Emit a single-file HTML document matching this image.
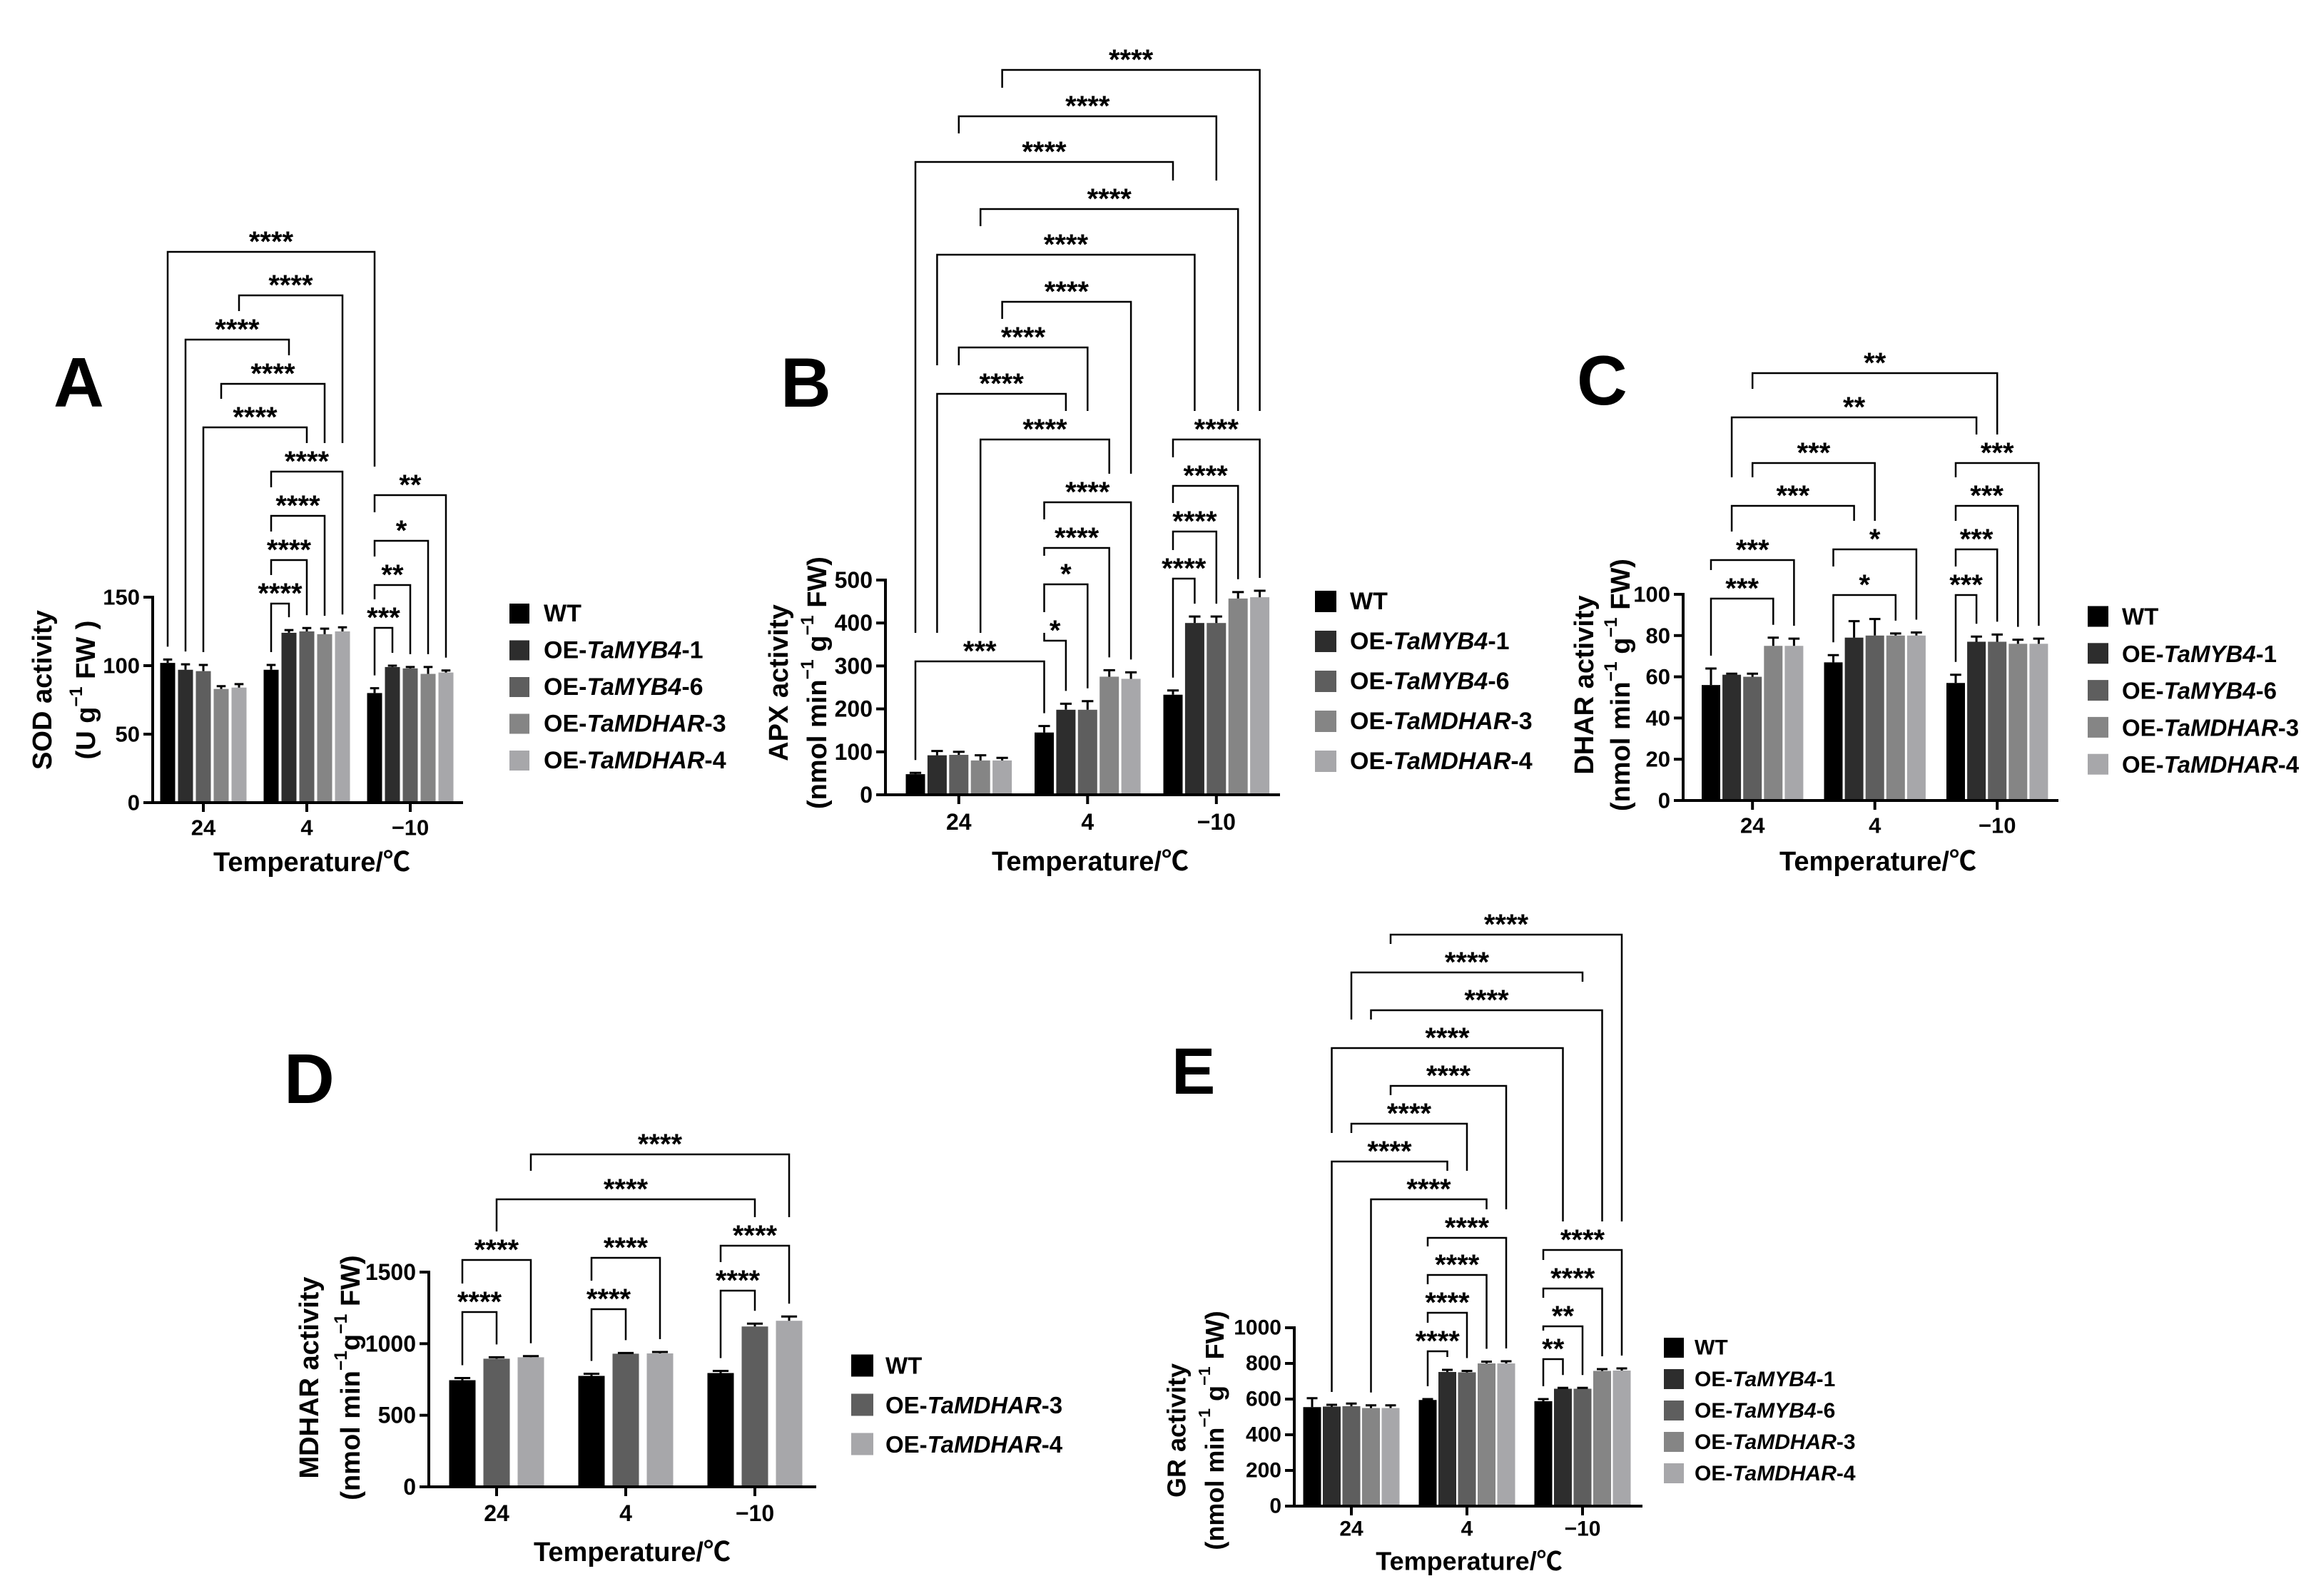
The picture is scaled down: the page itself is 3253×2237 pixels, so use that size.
<!DOCTYPE html>
<html><head><meta charset="utf-8"><style>
html,body{margin:0;padding:0;background:#fff;}
svg{display:block;font-family:"Liberation Sans","Noto Sans CJK SC",sans-serif;}
</style></head><body>
<svg id="fig" width="3253" height="2237" viewBox="0 0 3253 2237" xmlns="http://www.w3.org/2000/svg">
<rect x="0" y="0" width="3253" height="2237" fill="#fff"/>
</svg>
<script>
// ---- shared data ----
const categories = ['24','4','\u221210'];
const seriesFive = ['WT','OE-TaMYB4-1','OE-TaMYB4-6','OE-TaMDHAR-3','OE-TaMDHAR-4'];
const seriesThree = ['WT','OE-TaMDHAR-3','OE-TaMDHAR-4'];
const colorsFive = ['#000000','#2d2d2d','#5e5e5e','#858585','#a7a7aa'];
const colorsThree = ['#000000','#5e5e5e','#a7a7aa'];

// ---- Panel A: SOD ----
const sodMeans = [[102,97,96,83,84],[97,124,125,123,125],[80,99,98,94,95]];
const sodErrs = [[2.5,4,4.5,2,2.5],[3.5,2,2.5,4,3],[3.5,1,1,5,1.5]];
const sodTicks = [0,50,100,150];
const sodBrackets = [[0,0,2,0,'****'],[0,4,1,4,'****'],[0,1,1,1,'****'],[0,3,1,3,'****'],[0,2,1,2,'****'],
 [1,0,1,4,'****'],[1,0,1,3,'****'],[1,0,1,2,'****'],[1,0,1,1,'****'],
 [2,0,2,4,'**'],[2,0,2,3,'*'],[2,0,2,2,'**'],[2,0,2,1,'***']];
const sodBracketLevels = [353,414,476,538,599,661,723,785,846,694,758,820,880];

// ---- Panel B: APX ----
const apxMeans = [[48,92,93,80,80],[145,198,198,275,270],[233,400,400,457,460]];
const apxErrs = [[3,10,7,12,6],[15,14,20,15,15],[10,15,15,15,15]];
const apxTicks = [0,100,200,300,400,500];
const apxBrackets = [[0,4,2,4,'****'],[0,2,2,2,'****'],[0,0,2,0,'****'],[0,3,2,3,'****'],[0,1,2,1,'****'],
 [0,4,1,4,'****'],[0,2,1,2,'****'],[0,1,1,1,'****'],[0,3,1,3,'****'],
 [1,0,1,4,'****'],[1,0,1,3,'****'],[1,0,1,2,'*'],[1,0,1,1,'*'],[0,0,1,0,'***'],
 [2,0,2,4,'****'],[2,0,2,3,'****'],[2,0,2,2,'****'],[2,0,2,1,'****']];
const apxBracketLevels = [98,163,227,293,357,423,487,552,616,704,768,819,898,927,616,681,745,811];

// ---- Panel C: DHAR ----
const dharMeans = [[56,61,60,75,75],[67,79,80,80,80],[57,77,77,76,76]];
const dharErrs = [[8,0.5,1.5,4,3.5],[3.5,8,8,1,1.5],[4,2.5,3.5,2,2.5]];
const dharTicks = [0,20,40,60,80,100];
const dharBrackets = [[0,2,2,2,'**'],[0,1,2,1,'**'],[0,2,1,2,'***'],[0,1,1,1,'***'],[0,0,0,4,'***'],[0,0,0,3,'***'],
 [1,0,1,4,'*'],[1,0,1,3,'*'],[2,0,2,4,'***'],[2,0,2,3,'***'],[2,0,2,2,'***'],[2,0,2,1,'***']];
const dharBracketLevels = [523,585,649,709,785,839,770,834,649,709,770,834];

// ---- Panel D: MDHAR ----
const mdharMeans = [[745,895,905],[775,930,932],[795,1120,1160]];
const mdharErrs = [[15,10,8],[15,5,10],[15,20,30]];
const mdharTicks = [0,500,1000,1500];
const mdharBrackets = [[0,2,2,2,'****'],[0,1,2,1,'****'],[0,0,0,2,'****'],[0,0,0,1,'****'],
 [1,0,1,2,'****'],[1,0,1,1,'****'],[2,0,2,2,'****'],[2,0,2,1,'****']];
const mdharBracketLevels = [1618,1681,1766,1839,1763,1835,1746,1809];

// ---- Panel E: GR ----
const grMeans = [[555,558,560,550,550],[595,752,750,800,800],[588,658,658,758,760]];
const grErrs = [[50,10,15,15,15],[5,12,8,10,12],[12,5,5,10,12]];
const grTicks = [0,200,400,600,800,1000];
const grBrackets = [[0,4,2,4,'****'],[0,2,2,2,'****'],[0,3,2,3,'****'],[0,1,2,1,'****'],
 [0,4,1,4,'****'],[0,2,1,2,'****'],[0,1,1,1,'****'],[0,3,1,3,'****'],
 [1,0,1,4,'****'],[1,0,1,3,'****'],[1,0,1,2,'****'],[1,0,1,1,'****'],
 [2,0,2,4,'****'],[2,0,2,3,'****'],[2,0,2,2,'**'],[2,0,2,1,'**']];
const grBracketLevels = [1310,1363,1416,1469,1522,1575,1628,1681,1735,1787,1840,1894,1752,1806,1859,1905];

const NS = 'http://www.w3.org/2000/svg';
const svg = document.getElementById('fig');
function mk(tag, attrs, parent){
  const e = document.createElementNS(NS, tag);
  for (const k in attrs) e.setAttribute(k, attrs[k]);
  parent.appendChild(e);
  return e;
}

function drawPanel(c){
  const g = mk('g', {}, svg);
  
  
  const yScale = v => c.y0 - (v / c.yMax) * (c.y0 - c.yTop);
  const nb = c.means[0].length;
  const barX = (gi, bi) => c.firstBar + gi * c.groupStep + bi * c.barStep;
  const groupX = gi => c.firstBar + gi * c.groupStep + (nb - 1) / 2 * c.barStep;

  const letter = mk('text', {x:c.letter[0], y:c.letter[1], 'font-size':c.letterSize || 98, 'font-weight':'bold'}, g);
  letter.textContent = c.letterText;
  
  

  for (let gi = 0; gi < c.means.length; gi++){
    for (let bi = 0; bi < nb; bi++){
      const x = barX(gi, bi), v = c.means[gi][bi], e = c.errs[gi][bi];
      const r = mk('rect', {x:x - c.barW/2, y:yScale(v), width:c.barW, height:c.y0 - yScale(v), fill:c.colors[bi]}, g);
      
      
      const eb = mk('path', {d:`M${x},${yScale(v)} V${yScale(v+e)} M${x - c.barW*0.3},${yScale(v+e)} H${x + c.barW*0.3}`, stroke:'#000', 'stroke-width':3, fill:'none'}, g);
      
      
    }
  }

  const ya = mk('line', {x1:c.x0, y1:c.y0 + 2, x2:c.x0, y2:c.yTop - 2, stroke:'#000', 'stroke-width':4}, g);
  
  
  const xa = mk('line', {x1:c.x0 - 2, y1:c.y0, x2:c.xEnd, y2:c.y0, stroke:'#000', 'stroke-width':4}, g);
  
  
  c.ticks.forEach(t => {
    const y = yScale(t);
    const tl = mk('line', {x1:c.x0 - 13, y1:y, x2:c.x0, y2:y, stroke:'#000', 'stroke-width':4}, g);
    
    
    const tt = mk('text', {x:c.x0 - 18, y:y, 'font-size':c.tickSize, 'font-weight':'bold', 'text-anchor':'end', 'dominant-baseline':'central'}, g);
    tt.textContent = String(t);
    
    
  });
  categories.forEach((cat, gi) => {
    const x = groupX(gi);
    const tl = mk('line', {x1:x, y1:c.y0, x2:x, y2:c.y0 + 13, stroke:'#000', 'stroke-width':4}, g);
    
    
    const tt = mk('text', {x:x, y:c.xLabY, 'font-size':c.tickSize, 'font-weight':'bold', 'text-anchor':'middle', 'dominant-baseline':'central'}, g);
    tt.textContent = cat;
    
    
  });

  const xt = mk('text', {x:c.xTitle[0], y:c.xTitle[1], 'font-size':c.titleSize, 'font-weight':'bold', 'text-anchor':'middle', 'dominant-baseline':'central'}, g);
  xt.textContent = 'Temperature/\u2103';
  
  
  const yt1 = mk('text', {x:0, y:0, transform:`translate(${c.yTitle[0]},${c.yTitle[2]}) rotate(-90)`, 'font-size':c.titleSize, 'font-weight':'bold', 'text-anchor':'middle', 'dominant-baseline':'central'}, g);
  yt1.textContent = c.yLine1;
  
  
  const yt2 = mk('text', {x:0, y:0, transform:`translate(${c.yTitle[1]},${c.yTitle[2]}) rotate(-90)`, 'font-size':c.titleSize, 'font-weight':'bold', 'text-anchor':'middle', 'dominant-baseline':'central'}, g);
  
  
  c.yLine2.forEach(p => {
    const ts = mk('tspan', {}, yt2);
    if (p.sup){ ts.setAttribute('dy', -14); ts.setAttribute('font-size', c.titleSize * 0.65); }
    else if (p.after){ ts.setAttribute('dy', 14); }
    ts.textContent = p.t;
  });

  const ends = c.brackets.map((b, i) => ({xl:barX(b[0], b[1]), xr:barX(b[2], b[3]), y:c.levels[i], b:b}));
  function dropEnd(x, gi, bi, y){
    let m = Infinity;
    ends.forEach(o => { if (o.y > y + 1 && x >= o.xl - 1 && x <= o.xr + 1) m = Math.min(m, o.y); });
    if (m < Infinity) return m - 40;
    return yScale(c.means[gi][bi] + c.errs[gi][bi]) - 18;
  }
  ends.forEach(o => {
    const b = o.b;
    const yl = dropEnd(o.xl, b[0], b[1], o.y), yr = dropEnd(o.xr, b[2], b[3], o.y);
    const p = mk('path', {d:`M${o.xl},${yl} V${o.y} H${o.xr} V${yr}`, stroke:'#000', 'stroke-width':2.5, fill:'none'}, g);
    
    
    const t = mk('text', {x:(o.xl + o.xr)/2, y:o.y - 1, 'font-size':40, 'font-weight':'bold', 'text-anchor':'middle'}, g);
    t.textContent = b[4];
    
    
  });

  c.series.forEach((s, i) => {
    const cy = c.legend.y + i * c.legend.dy;
    const sq = mk('rect', {x:c.legend.sx, y:cy - c.legend.sw/2, width:c.legend.sw, height:c.legend.sw, fill:c.colors[i]}, g);
    
    
    const t = mk('text', {x:c.legend.tx, y:cy, 'font-size':c.legend.fs, 'font-weight':'bold', 'dominant-baseline':'central'}, g);
    
    
    const m = s.match(/^(OE-)(Ta[A-Z0-9]+)(-\d)$/);
    if (m){
      const a = mk('tspan', {}, t); a.textContent = m[1];
      const b = mk('tspan', {'font-style':'italic'}, t); b.textContent = m[2];
      const d = mk('tspan', {}, t); d.textContent = m[3];
    } else t.textContent = s;
  });
}

const unitNmol = [{t:'(nmol min'},{t:'\u22121', sup:true},{t:' g', after:true},{t:'\u22121', sup:true},{t:' FW)', after:true}];

drawPanel({name:'sod', letterText:'A', letter:[75,570], means:sodMeans, errs:sodErrs, ticks:sodTicks, yMax:150,
  x0:214, xEnd:649, y0:1125, yTop:837, firstBar:235, barStep:25, groupStep:145, barW:21,
  colors:colorsFive, series:seriesFive, brackets:sodBrackets, levels:sodBracketLevels,
  tickSize:31, titleSize:38, xLabY:1160, xTitle:[437,1209], yTitle:[60,121,967], yLine1:'SOD activity',
  yLine2:[{t:'(U g'},{t:'\u22121', sup:true},{t:' FW )', after:true}],
  legend:{sx:714, sw:28, y:860, dy:51.5, tx:762, fs:34}});

drawPanel({name:'apx', letterText:'B', letter:[1094,570], means:apxMeans, errs:apxErrs, ticks:apxTicks, yMax:500,
  x0:1241, xEnd:1794, y0:1114, yTop:813, firstBar:1283, barStep:30.4, groupStep:180.5, barW:27,
  colors:colorsFive, series:seriesFive, brackets:apxBrackets, levels:apxBracketLevels,
  tickSize:32, titleSize:38, xLabY:1152, xTitle:[1528,1208], yTitle:[1092,1146,957], yLine1:'APX activity',
  yLine2:unitNmol, legend:{sx:1843, sw:30, y:843, dy:56, tx:1892, fs:34}});

drawPanel({name:'dhar', letterText:'C', letter:[2210,567], means:dharMeans, errs:dharErrs, ticks:dharTicks, yMax:100,
  x0:2359, xEnd:2885, y0:1122, yTop:833, firstBar:2398, barStep:29.1, groupStep:171.5, barW:26,
  colors:colorsFive, series:seriesFive, brackets:dharBrackets, levels:dharBracketLevels,
  tickSize:31, titleSize:38, xLabY:1157, xTitle:[2632,1208], yTitle:[2221,2272,960], yLine1:'DHAR activity',
  yLine2:unitNmol, legend:{sx:2926, sw:29, y:864, dy:51.8, tx:2974, fs:33}});

drawPanel({name:'mdhar', letterText:'D', letter:[398,1546], means:mdharMeans, errs:mdharErrs, ticks:mdharTicks, yMax:1500,
  x0:601, xEnd:1144, y0:2084, yTop:1783, firstBar:648, barStep:48, groupStep:181, barW:37,
  colors:colorsThree, series:seriesThree, brackets:mdharBrackets, levels:mdharBracketLevels,
  tickSize:32, titleSize:38, xLabY:2121, xTitle:[886,2176], yTitle:[434,492,1931], yLine1:'MDHAR activity',
  yLine2:[{t:'(nmol min'},{t:'\u22121', sup:true},{t:'g', after:true},{t:'\u22121', sup:true},{t:' FW)', after:true}],
  legend:{sx:1193, sw:31, y:1914, dy:55, tx:1241, fs:33}});

drawPanel({name:'gr', letterText:'E', letter:[1642,1533], letterSize:92, means:grMeans, errs:grErrs, ticks:grTicks, yMax:1000,
  x0:1814, xEnd:2302, y0:2111, yTop:1861, firstBar:1839, barStep:27.5, groupStep:162, barW:25,
  colors:colorsFive, series:seriesFive, brackets:grBrackets, levels:grBracketLevels,
  tickSize:30, titleSize:36, xLabY:2143, xTitle:[2059,2188], yTitle:[1649,1702,2005], yLine1:'GR activity',
  yLine2:unitNmol, legend:{sx:2332, sw:28, y:1889, dy:44, tx:2375, fs:30}});
</script>
</body></html>
